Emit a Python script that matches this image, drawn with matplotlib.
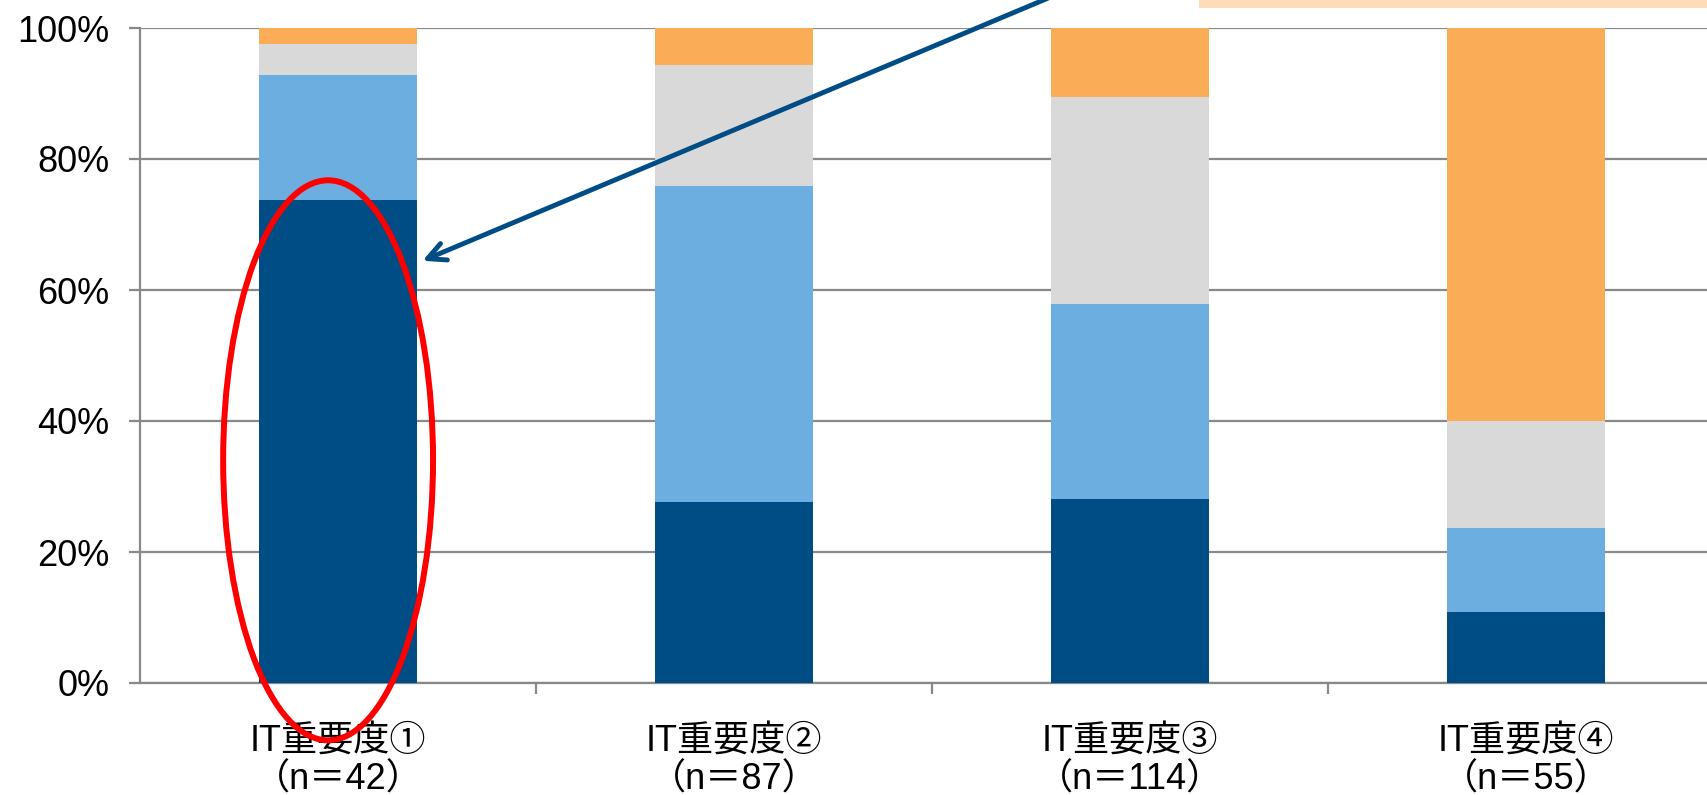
import matplotlib
matplotlib.use("Agg")
import matplotlib.pyplot as plt
from matplotlib.patches import Ellipse, Rectangle
from matplotlib.ticker import PercentFormatter
import numpy as np

plt.rcParams['font.family'] = ['Liberation Sans', 'Noto Sans CJK JP', 'DejaVu Sans']

categories = ["IT重要度①\n（n＝42）", "IT重要度②\n（n＝87）",
              "IT重要度③\n（n＝114）", "IT重要度④\n（n＝55）"]
# shares of each answer group per category (bottom to top)
dark_blue = [73.8, 27.6, 28.1, 10.9]
light_blue = [19.0, 48.3, 29.8, 12.7]
grey = [4.8, 18.4, 31.6, 16.4]
orange = [2.4, 5.7, 10.5, 60.0]

series = [dark_blue, light_blue, grey, orange]
colors = ["#004C85", "#6CAEE0", "#D9D9D9", "#FAAC56"]

fig = plt.figure(figsize=(17.07, 7.95), dpi=100)
ax = fig.add_axes([140 / 1707, 112 / 795, 1584 / 1707, 655 / 795])

x = np.arange(len(categories))
bottom = np.zeros(len(categories))
for vals, c in zip(series, colors):
    ax.bar(x, vals, width=0.4, bottom=bottom, color=c, zorder=3)
    bottom += np.array(vals)

ax.set_xlim(-0.5, 3.5)
ax.set_ylim(0, 100)
ax.set_yticks([0, 20, 40, 60, 80, 100])
ax.yaxis.set_major_formatter(PercentFormatter(decimals=0))
ax.yaxis.grid(True, color="#888888", linewidth=1.6, zorder=0)

ax.set_xticks(x)
ax.set_xticklabels(categories, fontsize=26, linespacing=1.15)
ax.set_xticks([0.5, 1.5, 2.5], minor=True)
ax.tick_params(axis="x", which="major", length=0, pad=29)
ax.tick_params(axis="x", which="minor", length=8, width=1.6, color="#888888")
ax.tick_params(axis="y", length=8, width=1.6, color="#888888", labelsize=26, pad=14)

for s in ["top", "right"]:
    ax.spines[s].set_visible(False)
for s in ["left", "bottom"]:
    ax.spines[s].set_color("#888888")
    ax.spines[s].set_linewidth(1.6)

# red circle around the first bar
ell = Ellipse((-0.025, 34.0), 0.53, 85.5, fill=False, edgecolor="red",
              linewidth=4.3, clip_on=False, zorder=5)
ax.add_patch(ell)

# arrow coming from the callout above
ax.annotate("", xy=(0.207, 64.3), xytext=(1.83, 105.5),
            arrowprops=dict(arrowstyle="->", color="#004C85", lw=3.5,
                            mutation_scale=32),
            annotation_clip=False, zorder=6)

# bottom edge of the callout box (cut off at the top)
fig.patches.append(Rectangle((1199 / 1707, 787 / 795), 0.35, 0.02,
                             transform=fig.transFigure, facecolor="#FDDCBA",
                             edgecolor="none"))

fig.savefig("out.png", dpi=100)
